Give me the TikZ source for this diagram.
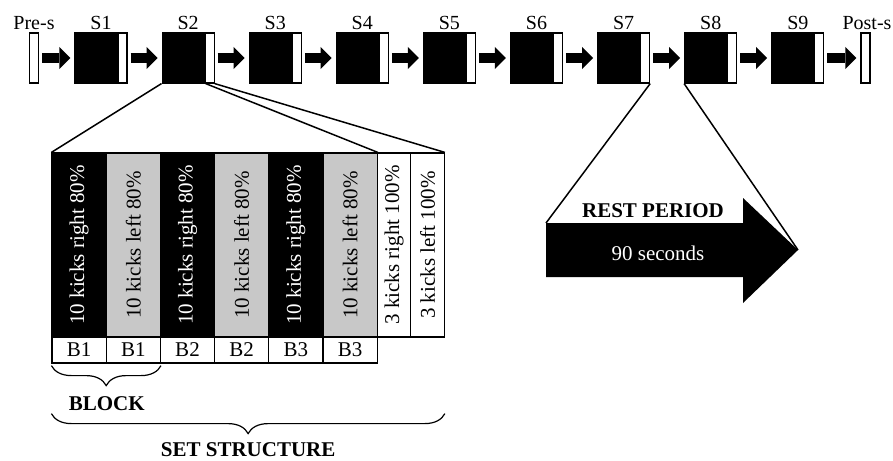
\documentclass[tikz,border=0pt]{standalone}
\usepackage{fontspec}
\setmainfont{Liberation Serif}
\usepackage{graphicx}
\usetikzlibrary{arrows.meta, positioning, calc, decorations.pathreplacing}
\definecolor{KickBlack}{HTML}{000000}
\definecolor{KickWhite}{HTML}{FFFFFF}
\definecolor{KickGray}{HTML}{C8C8C8}
\tikzset{
    setbox/.style={
        draw=KickBlack,
        fill=KickBlack,
        line width=1.2pt,
        minimum width=52pt,
        minimum height=50pt,
        inner sep=0pt,
        path picture={
            \fill[KickWhite] ([xshift=-9pt]path picture bounding box.north east) rectangle (path picture bounding box.south east);
            \draw[KickBlack, line width=1.2pt] ([xshift=-9pt]path picture bounding box.north east) -- ([xshift=-9pt]path picture bounding box.south east);
        }
    },
    endbar/.style={
        draw=KickBlack,
        fill=KickWhite,
        line width=1.2pt,
        minimum width=9pt,
        minimum height=50pt,
        inner sep=0pt
    },
    toplabel/.style={
        anchor=base,
        inner sep=0pt,
        font=\fontsize{20}{24}\selectfont
    },
    flowarrow/.style={
        KickBlack,
        line width=10pt,
        -{Triangle[length=11pt, width=22pt, line width=0pt]},
        shorten <=3pt,
        shorten >=4pt
    },
    kick/.style={
        draw=KickBlack,
        line width=1.2pt,
        minimum width=54.2pt,
        minimum height=184pt,
        inner sep=0pt,
        font=\fontsize{21}{25}\selectfont
    },
    blockbox/.style={
        draw=KickBlack,
        fill=KickWhite,
        line width=1.2pt,
        minimum width=54.2pt,
        minimum height=26pt,
        inner sep=0pt,
        font=\fontsize{21}{25}\selectfont
    },
    boldlabel/.style={
        anchor=base,
        inner sep=0pt,
        font=\fontsize{21}{25}\selectfont\bfseries
    },
    zoomline/.style={
        KickBlack,
        line width=1.5pt
    },
    bracket/.style={
        KickBlack,
        line width=1.2pt,
        decorate,
        decoration={brace, mirror, amplitude=20pt, raise=2pt}
    }
}

\begin{document}
\begin{tikzpicture}[x=1pt, y=-1pt]
    \useasboundingbox (0,0) rectangle (893,460);

    % Sessions
    \node[endbar] (pre) at (34,58) {};
    \node[toplabel] (prelabel) at ($(pre.north)+(0,-3)$) {Pre-s};
    \foreach \i in {1,...,9} {
        \node[setbox] (s\i) at ({101+(\i-1)*87.1},58) {};
        \node[toplabel] (s\i label) at ($(s\i.north)+(0,-3)$) {S\i};
    }
    \node[endbar] (post) at (865.5,58) {};
    \node[toplabel] (postlabel) at ($(post.north)+(1.5,-3)$) {Post-s};

    % Arrows between sessions
    \draw[flowarrow] (pre) -- (s1);
    \foreach \i [count=\j from 2] in {1,...,8}
        \draw[flowarrow] (s\i) -- (s\j);
    \draw[flowarrow] (s9) -- (post);

    % Set structure columns
    \foreach \fc/\tc/\side [count=\i] in {KickBlack/KickWhite/right, KickGray/KickBlack/left, KickBlack/KickWhite/right, KickGray/KickBlack/left, KickBlack/KickWhite/right, KickGray/KickBlack/left} {
        \pgfmathtruncatemacro{\blk}{(\i+1)/2}
        \node[kick, fill=\fc, text=\tc] (k\i) at ({79.1+(\i-1)*54.2},245) {\rotatebox{90}{10 kicks \side\ 80\%}};
        \node[blockbox] (b\i) at ({79.1+(\i-1)*54.2},350) {B\blk};
    }
    \node[kick, fill=KickWhite, minimum width=33.5pt] (w1) at (394,245) {\rotatebox{90}{3 kicks right 100\%}};
    \node[kick, fill=KickWhite, minimum width=33.5pt] (w2) at (427.5,245) {\rotatebox{90}{3 kicks left 100\%}};

    % Zoom from S2
    \coordinate (s2strip) at ($(s2.south east)+(-9,0)$);
    \draw[zoomline] (s2.south west) -- (k1.north west);
    \draw[zoomline] (s2strip) -- (k6.north east);
    \draw[zoomline] (s2.south east) -- (w2.north east);

    % Braces
    \draw[bracket] (b1.south west) -- (b2.south east);
    \node[boldlabel] (blocktext) at ($(b1.south east)+(0,47)$) {BLOCK};
    \coordinate (setleft) at ($(b1.south west)+(0,48)$);
    \coordinate (setright) at (setleft -| w2.east);
    \draw[bracket] (setleft) -- (setright);
    \node[boldlabel] (settext) at ($($(setleft)!0.5!(setright)$)+(0,45)$) {SET STRUCTURE};

    % Rest period
    \coordinate (restcorner) at (546,223);
    \coordinate (resttip) at (798,250);
    \fill[KickBlack] (restcorner) -- (743,223) -- (743,198) -- (resttip) -- (743,303) -- (743,277) -- (546,277) -- cycle;
    \node[boldlabel] (resttitle) at (653,217) {REST PERIOD};
    \node[anchor=base, inner sep=0pt, text=KickWhite, font=\fontsize{21}{25}\selectfont] (resttime) at (658,260) {90 seconds};
    \draw[zoomline] (s7.south east) -- (restcorner);
    \draw[zoomline] (s8.south west) -- (resttip);
\end{tikzpicture}
\end{document}
